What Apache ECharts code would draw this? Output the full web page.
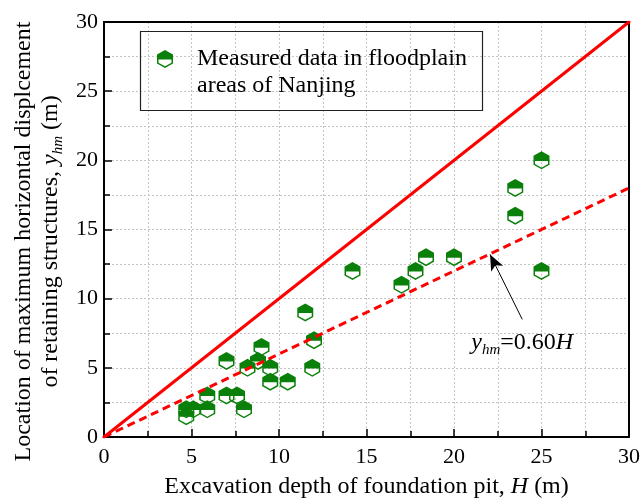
<!DOCTYPE html>
<html>
<head>
<meta charset="utf-8">
<script src="https://cdn.jsdelivr.net/npm/echarts@6/dist/echarts.min.js"></script>
<style>html,body{margin:0;padding:0;background:#fff;}#c{width:644px;height:499px;}</style>
</head>
<body>
<div id="c"></div>
<script>
// ---- data ----
var depthH = [4.7, 4.7, 5.1, 5.9, 5.9, 7.0, 7.0, 7.6, 8.0, 8.2, 8.8, 9.0, 9.5, 9.5, 10.5, 11.5, 12.0, 11.9, 14.2, 17.0, 17.8, 18.4, 20.0, 23.5, 23.5, 25.0, 25.0];
var yhm    = [2.0, 1.5, 2.0, 3.0, 2.0, 5.5, 3.0, 3.0, 2.0, 5.0, 5.5, 6.5, 5.0, 4.0, 4.0, 9.0, 7.0, 5.0, 12.0, 11.0, 12.0, 13.0, 13.0, 16.0, 18.0, 20.0, 12.0];
var lineX     = [0, 30];
var upperLine = [0, 30];   // y = H
var fitLine   = [0, 18];   // y = 0.60H
var arrowFrom = [23.9, 8.5];
var arrowTo   = [22.06, 13.2];
var annotPos  = [23.9, 6.8];
var xTicks = [0, 5, 10, 15, 20, 25, 30];
var yTicks = [0, 5, 10, 15, 20, 25, 30];
var legendName = 'Measured data in floodplain';
var legendLine2 = 'areas of Nanjing';

var FONT = '"Liberation Serif","Times New Roman",serif';
var GREEN = '#0a800a';
var RED = '#ff0000';
// half-filled hexagon (top filled, bottom outlined) via winding hole
var hexPath = 'path://M8 0 L16 4.5 L16 9.6 L0 9.6 L0 4.5 Z ' +
  'M16 9.6 L16 13.5 L8 18 L0 13.5 L0 9.6 Z ' +
  'M1.5 9.6 L1.5 12.65 L8 16.3 L14.5 12.65 L14.5 9.6 Z';

var pts = depthH.map(function (x, i) { return [x, yhm[i]]; });
var upper = lineX.map(function (x, i) { return [x, upperLine[i]]; });
var fit = lineX.map(function (x, i) { return [x, fitLine[i]]; });

var gridLine = { show: true, lineStyle: { color: '#c4c4c4', width: 1, type: [2, 2] } };

function mainAxis(pos, ticks) {
  return {
    type: 'value', position: pos, min: ticks[0], max: ticks[ticks.length - 1],
    interval: ticks[1] - ticks[0],
    axisLine: { show: true, onZero: false, lineStyle: { color: '#000', width: 2 } },
    axisTick: { show: true, inside: true, length: 8, lineStyle: { color: '#000', width: 1.5 } },
    minorTick: { show: true, splitNumber: 2, length: 6, lineStyle: { color: '#000', width: 1.5 } },
    splitLine: gridLine,
    minorSplitLine: gridLine,
    axisLabel: { color: '#000', fontFamily: FONT, fontSize: 22 }
  };
}
var xMain = mainAxis('bottom', xTicks);
xMain.axisLabel.margin = 9;
xMain.name = '{n|Excavation depth of foundation pit, }{i|H}{n| (m)}';
xMain.nameLocation = 'middle';
xMain.nameGap = 38;
xMain.nameTextStyle = { rich: {
  n: { fontFamily: FONT, fontSize: 24, color: '#000' },
  i: { fontFamily: FONT, fontSize: 24, color: '#000', fontStyle: 'italic' } } };

var yMain = mainAxis('left', yTicks);
yMain.axisLabel.margin = 6;
yMain.name = '{n|Location of maximum horizontal displcement}\n{n|of retaining structures, }{i|y}{s|hm}{n| (m)}';
yMain.nameLocation = 'middle';
yMain.nameRotate = 90;
yMain.nameGap = 29;
yMain.nameTextStyle = { align: 'center', padding: [0, 24, 0, 0], rich: {
  n: { fontFamily: FONT, fontSize: 24, color: '#000', lineHeight: 27 },
  i: { fontFamily: FONT, fontSize: 24, color: '#000', fontStyle: 'italic', lineHeight: 27 },
  s: { fontFamily: FONT, fontSize: 15, color: '#000', fontStyle: 'italic', lineHeight: 27, padding: [14, 0, 0, 0] } } };

function frameAxis(pos, ticks) {
  return {
    type: 'value', position: pos, min: ticks[0], max: ticks[ticks.length - 1],
    interval: ticks[1] - ticks[0],
    axisLine: { show: true, onZero: false, lineStyle: { color: '#000', width: 2 } },
    axisTick: { show: false }, axisLabel: { show: false }, splitLine: { show: false }
  };
}

var option = {
  backgroundColor: '#fff',
  animation: false,
  grid: { left: 104, right: 15, top: 22, bottom: 62, containLabel: false, outerBoundsMode: 'none' },
  xAxis: [xMain, frameAxis('top', xTicks)],
  yAxis: [yMain, frameAxis('right', yTicks)],
  legend: {
    show: true, left: 157, top: 47, padding: 0,
    itemWidth: 16, itemHeight: 18,
    data: [{ name: legendName, icon: hexPath }],
    textStyle: { fontFamily: FONT, fontSize: 24, color: '#000', padding: [0, 0, 0, 19] }
  },
  graphic: [
    { type: 'rect', left: 138, top: 29, shape: { width: 342, height: 79 },
      style: { fill: 'none', stroke: '#222', lineWidth: 1.2 }, z: 100 },
    { type: 'text', left: 197, top: 74,
      style: { text: legendLine2, font: '24px ' + FONT, fill: '#000' }, z: 100 }
  ],
  series: [
    {
      name: legendName, type: 'scatter', data: pts,
      symbol: hexPath, symbolSize: [16, 18],
      itemStyle: { color: GREEN, opacity: 1 }, z: 3
    },
    {
      name: 'y=H', type: 'line', data: upper, showSymbol: false, symbol: 'none',
      lineStyle: { color: RED, width: 3, cap: 'round' }, z: 4
    },
    {
      name: 'y=0.60H', type: 'line', data: fit, showSymbol: false, symbol: 'none',
      lineStyle: { color: RED, width: 3, type: [8, 5] }, z: 4,
      markLine: {
        silent: true, symbol: ['none', 'arrow'], symbolSize: [10, 16],
        lineStyle: { color: '#000', width: 1, type: 'solid' },
        label: { show: false },
        data: [[{ coord: arrowFrom }, { coord: arrowTo }]]
      },
      markPoint: {
        silent: true, symbol: 'rect', symbolSize: 1,
        itemStyle: { color: 'rgba(0,0,0,0)' },
        label: {
          show: true, position: 'inside',
          formatter: '{i|y}{s|hm}{n|=0.60}{i|H}',
          rich: {
            n: { fontFamily: FONT, fontSize: 24, color: '#000', lineHeight: 28 },
            i: { fontFamily: FONT, fontSize: 24, color: '#000', fontStyle: 'italic', lineHeight: 28 },
            s: { fontFamily: FONT, fontSize: 15, color: '#000', fontStyle: 'italic', lineHeight: 28, padding: [14, 0, 0, 0] }
          }
        },
        data: [{ coord: annotPos }]
      }
    }
  ]
};
var chart = echarts.init(document.getElementById('c'), null, { renderer: 'canvas' });
chart.setOption(option);
</script>
</body>
</html>
